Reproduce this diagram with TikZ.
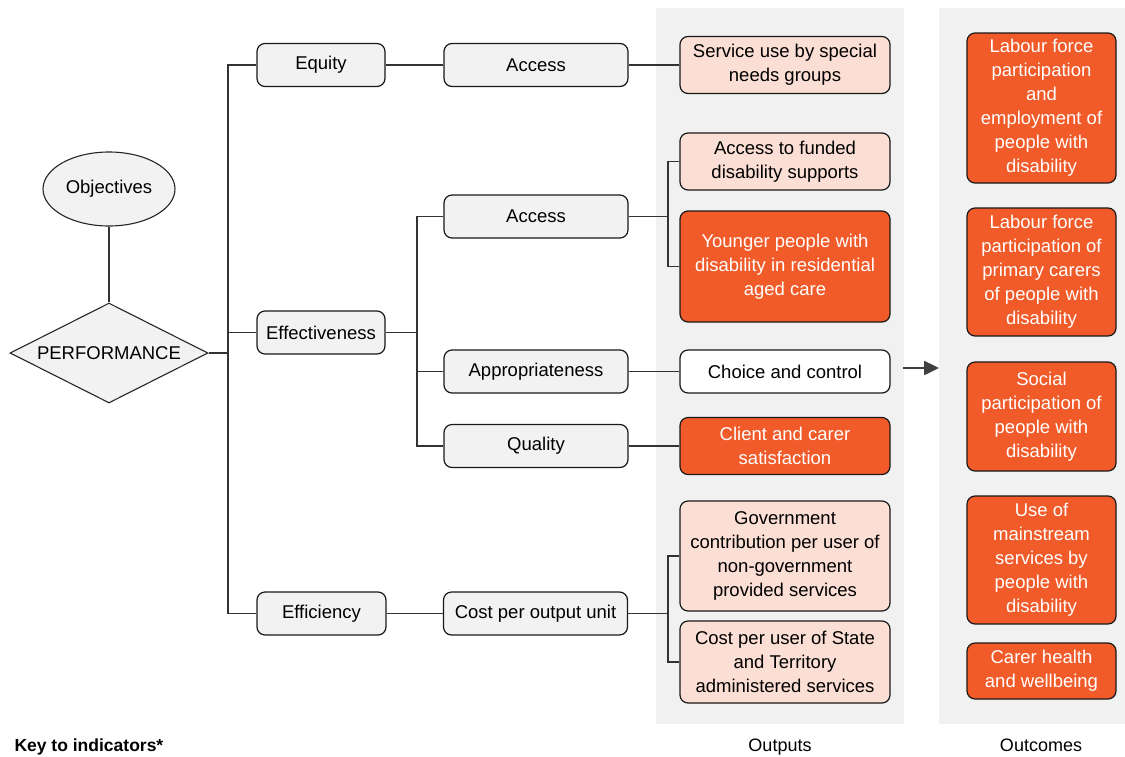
\documentclass[tikz,border=0pt]{standalone}
\usepackage{fontspec}
\setmainfont{Liberation Sans}
\usetikzlibrary{shapes.geometric,arrows.meta}
\definecolor{boxgray}{HTML}{F2F2F2}
\definecolor{panelgray}{HTML}{F1F1F1}
\definecolor{pinkfill}{HTML}{FBDED4}
\definecolor{orangefill}{HTML}{F15A29}
\definecolor{linecol}{HTML}{333333}
\definecolor{arrowcol}{HTML}{404040}
\tikzset{
  txt/.style={font=\fontsize{18.5}{24}\selectfont, align=center},
  gbox/.style={txt, draw=black!90, line width=1.2pt, fill=boxgray, rounded corners=8pt, inner sep=0pt, minimum height=43pt},
  pbox/.style={txt, draw=black!90, line width=1.2pt, fill=pinkfill, rounded corners=8pt, inner sep=0pt, minimum width=210pt},
  obox/.style={txt, draw=black!90, line width=1.2pt, fill=orangefill, text=white, rounded corners=8pt, inner sep=0pt},
  wbox/.style={txt, draw=black!90, line width=1.2pt, fill=white, rounded corners=8pt, inner sep=0pt, minimum width=210pt},
  conn/.style={draw=linecol, line width=1.3pt},
  panel/.style={fill=panelgray, draw=none, inner sep=0pt},
  lbl/.style={font=\fontsize{18}{22}\selectfont, anchor=base}
}
\begin{document}
\begin{tikzpicture}[x=1pt,y=-1pt]
\useasboundingbox (0,0) rectangle (1125,756);
% panels
\node[panel, minimum width=248pt, minimum height=716pt] (outpanel) at (780,366) {};
\node[panel, minimum width=186pt, minimum height=716pt] (outcpanel) at (1032,366) {};
\node[lbl] (outlbl) at (780,751) {Outputs};
\node[lbl] (outclbl) at (1041,751) {Outcomes};
\node[lbl, font=\fontsize{17.5}{22}\selectfont\bfseries, anchor=base west] (key) at (11,751) {Key to indicators*};

% left
\node[txt, ellipse, draw=black!85, line width=1.1pt, fill=boxgray, minimum width=132pt, minimum height=74pt, inner sep=0pt] (obj) at (109,189) {Objectives};
\node[txt, diamond, draw=black!85, line width=1.1pt, fill=boxgray, minimum width=198pt, minimum height=100pt, inner sep=0pt, aspect=2] (perf) at (109,353) {PERFORMANCE};

% level 1
\node[gbox, minimum width=128pt] (equity) at (321,65) {Equity};
\node[gbox, minimum width=128pt] (effect) at (321,332.5) {Effectiveness};
\node[gbox, minimum width=129pt] (effic) at (321.5,613.5) {Efficiency};

% level 2
\node[gbox, minimum width=184pt] (access1) at (536,65) {Access};
\node[gbox, minimum width=184pt] (access2) at (536,216.5) {Access};
\node[gbox, minimum width=184pt] (approp) at (536,371.5) {Appropriateness};
\node[gbox, minimum width=184pt] (quality) at (536,446) {Quality};
\node[gbox, minimum width=184pt] (costunit) at (535.5,613.5) {Cost per output unit};

% outputs
\node[pbox, minimum height=57pt] (service) at (785,65) {Service use by special\\needs groups};
\node[pbox, minimum height=57pt] (accfund) at (785,161.5) {Access to funded\\disability supports};
\node[obox, minimum width=210pt, minimum height=111pt] (younger) at (785,266.5) {Younger people with\\disability in residential\\aged care};
\node[wbox, minimum height=43pt] (choice) at (785,371.5) {Choice and control};
\node[obox, minimum width=210pt, minimum height=57pt] (client) at (785,446) {Client and carer\\satisfaction};
\node[pbox, minimum height=110pt] (govt) at (785,556) {Government\\contribution per user of\\non-government\\provided services};
\node[pbox, minimum height=82pt] (costuser) at (785,662) {Cost per user of State\\and Territory\\administered services};

% outcomes
\node[obox, minimum width=149pt, minimum height=150pt] (lab1) at (1041.5,108) {Labour force\\participation\\and\\employment of\\people with\\disability};
\node[obox, minimum width=149pt, minimum height=128pt] (lab2) at (1041.5,272) {Labour force\\participation of\\primary carers\\of people with\\disability};
\node[obox, minimum width=149pt, minimum height=109pt] (social) at (1041.5,416.5) {Social\\participation of\\people with\\disability};
\node[obox, minimum width=149pt, minimum height=128pt] (useof) at (1041.5,560) {Use of\\mainstream\\services by\\people with\\disability};
\node[obox, minimum width=149pt, minimum height=56pt] (carer) at (1041.5,671) {Carer health\\and wellbeing};

% branch coordinates
\coordinate (trunk) at (228,0);
\coordinate (b2) at (417,0);
\coordinate (b3) at (668,0);

% connectors
\draw[conn] (obj.south) -- (perf.north);
\draw[conn] (perf.east) -- (perf.east -| trunk);
\draw[conn] (equity.west) -- (equity.west -| trunk) -- (effic.west -| trunk) -- (effic.west);
\draw[conn] (effect.west) -- (effect.west -| trunk);
\draw[conn] (equity.east) -- (access1.west);
\draw[conn] (effic.east) -- (costunit.west);
\draw[conn] (effect.east) -- (effect.east -| b2);
\draw[conn] (access2.west) -- (access2.west -| b2) -- (quality.west -| b2) -- (quality.west);
\draw[conn] (approp.west) -- (approp.west -| b2);
\draw[conn] (access1.east) -- (service.west);
\draw[conn] (access2.east) -- (access2.east -| b3);
\draw[conn] (accfund.west) -- (accfund.west -| b3) -- (younger.west -| b3) -- (younger.west);
\draw[conn] (approp.east) -- (choice.west);
\draw[conn] (quality.east) -- (client.west);
\draw[conn] (costunit.east) -- (costunit.east -| b3);
\draw[conn] (govt.west) -- (govt.west -| b3) -- (costuser.west -| b3) -- (costuser.west);

% arrow between panels
\coordinate (arrs) at (903,368);
\coordinate (arre) at (939,368);
\draw[draw=arrowcol, line width=2.4pt, -{Triangle[length=15pt,width=14pt]}] (arrs) -- (arre);
\end{tikzpicture}
\end{document}
